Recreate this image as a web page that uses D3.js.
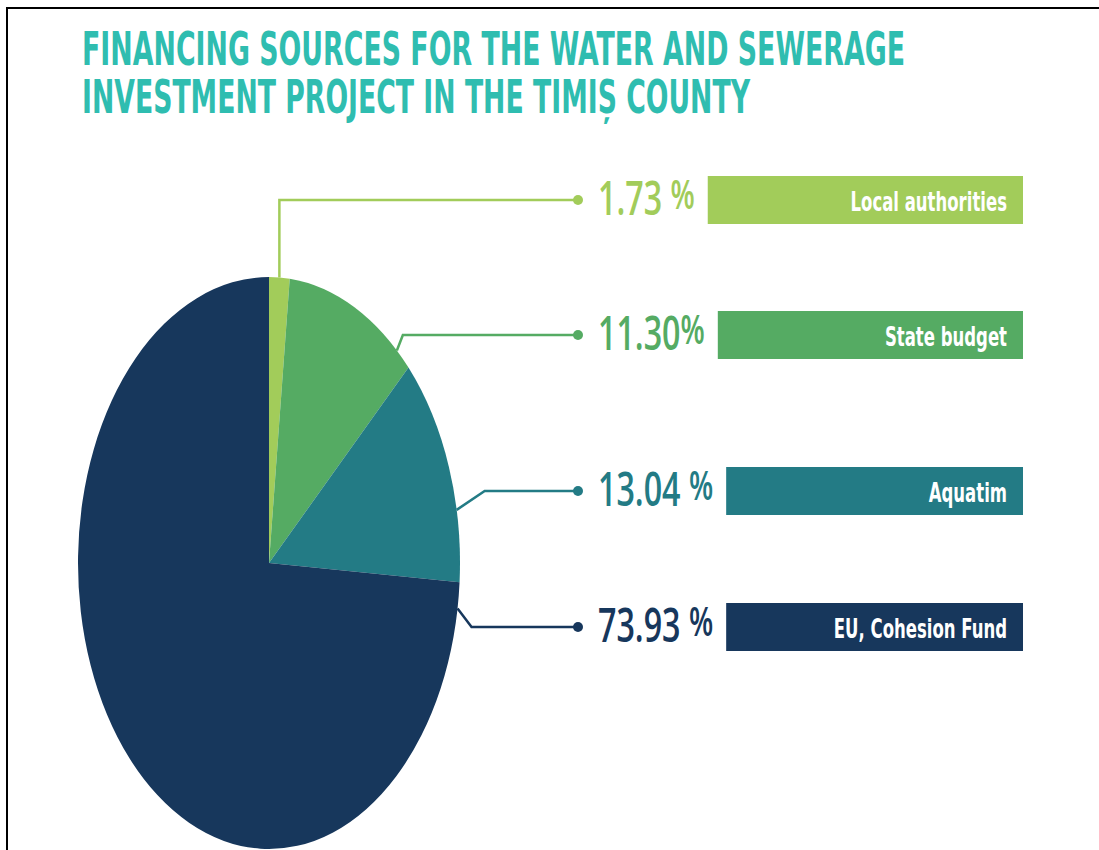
<!DOCTYPE html>
<html>
<head>
<meta charset="utf-8">
<script src="https://cdn.jsdelivr.net/npm/d3@7"></script>
<style>
  body { margin: 0; background: #fff; }
  svg { display: block; }
</style>
</head>
<body>
<div id="chart"></div>
<script>
// data
var titleLines = ["FINANCING SOURCES FOR THE WATER AND SEWERAGE", "INVESTMENT PROJECT IN THE TIMIȘ COUNTY"];
var sources = ["Local authorities", "State budget", "Aquatim", "EU, Cohesion Fund"];
var shares = [1.73, 11.30, 13.04, 73.93];
var shareLabels = ["1.73 %", "11.30%", "13.04 %", "73.93 %"];
var colors = ["#a2cc5a", "#55ab63", "#237b85", "#17375c"];

// layout
var width = 1099, height = 850;
var cx = 269, cy = 563, rx = 191, ry = 286;   // the pie is stretched into an ellipse
var rowY = [200, 335, 491, 627];
var anchorAt = [0.5, 0.88, 0.69, 0.02];       // where on each slice rim the leader starts
var elbowDx = [0, 6, 28, 14];
var dotX = 578, pctX = 598, boxRight = 1023, boxH = 48;
var stretch = 1.5;

var svg = d3.select("#chart").append("svg")
    .attr("width", width)
    .attr("height", height);

// frame
svg.append("path")
    .attr("d", "M7," + height + " V8 H" + width)
    .attr("fill", "none")
    .attr("stroke", "#000")
    .attr("stroke-width", 2);

// title
var titleWidths = [823, 668];
var titleBase = [65, 113];
titleLines.forEach(function (t, i) {
    svg.append("g")
        .attr("transform", "translate(82," + titleBase[i] + ") scale(1," + stretch + ")")
        .append("text")
        .text(t)
        .attr("textLength", titleWidths[i])
        .attr("lengthAdjust", "spacingAndGlyphs")
        .style("font-family", "'DejaVu Sans Condensed', 'DejaVu Sans', sans-serif")
        .style("font-stretch", "condensed")
        .style("font-weight", "bold")
        .style("font-size", "31px")
        .style("fill", "#2fbdb0");
});

// pie
var pie = d3.pie().sort(null).value(function (d) { return d; });
var arcs = pie(shares);
var arc = d3.arc().innerRadius(0).outerRadius(ry);

svg.append("g")
    .attr("transform", "translate(" + cx + "," + cy + ") scale(" + (rx / ry) + ",1)")
    .selectAll("path")
    .data(arcs)
    .enter().append("path")
    .attr("d", arc)
    .attr("fill", function (d, i) { return colors[i]; });

// leader lines
function anchor(d, i) {
    var a = d.startAngle + anchorAt[i] * (d.endAngle - d.startAngle);
    return [cx + rx * Math.sin(a), cy - ry * Math.cos(a)];
}

var line = d3.line();
svg.selectAll("path.leader")
    .data(arcs)
    .enter().append("path")
    .attr("class", "leader")
    .attr("d", function (d, i) {
        var p = anchor(d, i);
        return line([p, [p[0] + elbowDx[i], rowY[i]], [dotX, rowY[i]]]);
    })
    .attr("fill", "none")
    .attr("stroke", function (d, i) { return colors[i]; })
    .attr("stroke-width", 2.5);

svg.selectAll("circle.dot")
    .data(arcs)
    .enter().append("circle")
    .attr("class", "dot")
    .attr("cx", dotX)
    .attr("cy", function (d, i) { return rowY[i]; })
    .attr("r", 5)
    .attr("fill", function (d, i) { return colors[i]; });

// percentage labels
var pctEnds = [];
shareLabels.forEach(function (lab, i) {
    var num = lab.replace("%", "");
    var t = svg.append("g")
        .attr("transform", "translate(" + pctX + "," + (rowY[i] + 15) + ") scale(1.04," + stretch + ")")
        .append("text")
        .style("font-family", "'Open Sans', sans-serif")
        .style("font-weight", 600)
        .style("font-size", "31px")
        .style("fill", colors[i]);
    t.append("tspan").text(num);
    t.append("tspan").text("%").attr("dy", -4).style("font-size", "27px");
    pctEnds.push(pctX + 1.04 * t.node().getComputedTextLength());
});

// category boxes
sources.forEach(function (s, i) {
    var x0 = pctEnds[i] + 13;
    svg.append("rect")
        .attr("x", x0)
        .attr("y", rowY[i] - boxH / 2)
        .attr("width", boxRight - x0)
        .attr("height", boxH)
        .attr("fill", colors[i]);
    svg.append("g")
        .attr("transform", "translate(1007," + (rowY[i] + 11) + ") scale(1.02," + stretch + ")")
        .append("text")
        .text(s)
        .attr("text-anchor", "end")
        .style("font-family", "'DejaVu Sans Condensed', 'DejaVu Sans', sans-serif")
        .style("font-stretch", "condensed")
        .style("font-weight", "bold")
        .style("font-size", "18px")
        .style("fill", "#fff");
});
</script>
</body>
</html>
